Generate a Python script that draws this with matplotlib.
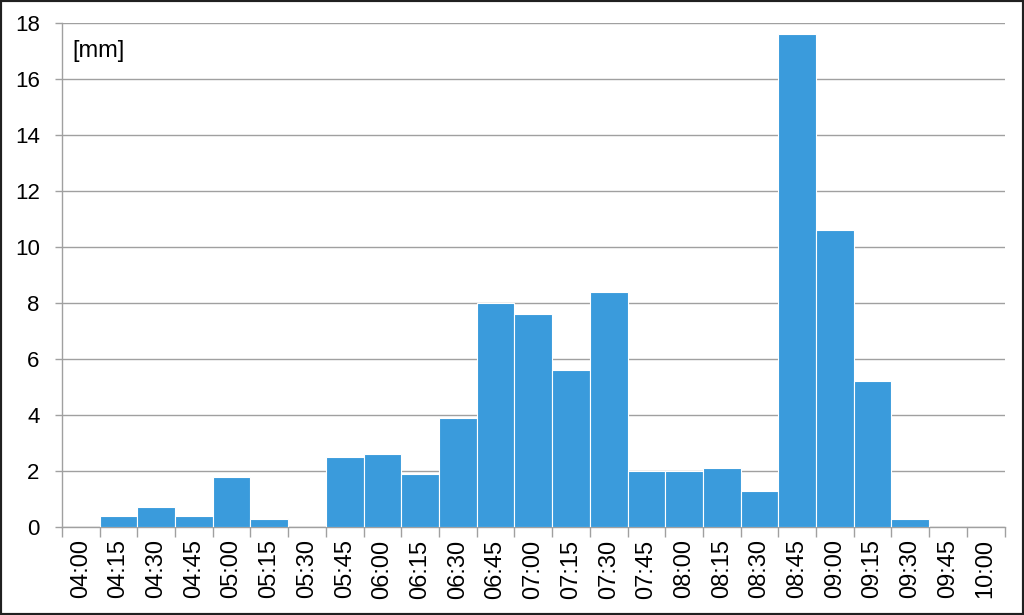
import numpy as np
import matplotlib.pyplot as plt

plt.rcParams['font.family'] = ['Liberation Sans', 'DejaVu Sans']

times = ['04:00', '04:15', '04:30', '04:45', '05:00', '05:15', '05:30', '05:45',
         '06:00', '06:15', '06:30', '06:45', '07:00', '07:15', '07:30', '07:45',
         '08:00', '08:15', '08:30', '08:45', '09:00', '09:15', '09:30', '09:45', '10:00']
rain = [0, 0.4, 0.7, 0.4, 1.8, 0.3, 0, 2.5,
        2.6, 1.9, 3.9, 8.0, 7.6, 5.6, 8.4, 2.0,
        2.0, 2.1, 1.3, 17.6, 10.6, 5.2, 0.3, 0, 0]

fig = plt.figure(figsize=(10.24, 6.15), dpi=100)
ax = fig.add_axes([0.0605, 0.1431, 0.9205, 0.8203])

x = np.arange(len(times))
ax.bar(x, rain, width=1.0, color='#3A9BDC', edgecolor='white', linewidth=0.8, zorder=3)

ax.set_xlim(-0.5, len(times) - 0.5)
ax.set_ylim(0, 18)
ax.set_yticks(np.arange(0, 19, 2))
ax.yaxis.grid(True, color='#A0A0A0', linewidth=1.0, zorder=0)

ax.set_xticks(np.arange(-0.5, len(times), 1.0))
ax.set_xticklabels([])
ax.set_xticks(x, minor=True)
ax.set_xticklabels(times, minor=True, rotation=90, fontsize=17)
ax.tick_params(axis='x', which='minor', length=0, pad=9)
ax.tick_params(axis='x', which='major', length=7, color='#A0A0A0', width=1)
ax.tick_params(axis='y', length=5, color='#A0A0A0', width=1, labelsize=16, pad=11)

for s in ['top', 'right']:
    ax.spines[s].set_visible(False)
for s in ['left', 'bottom']:
    ax.spines[s].set_color('#A0A0A0')
    ax.spines[s].set_linewidth(1.0)

ax.text(0.011, 0.965, '[mm]', transform=ax.transAxes, fontsize=17, va='top', ha='left')

fig.patches.append(plt.Rectangle((0, 0), 1, 1, transform=fig.transFigure,
                                 fill=False, edgecolor='#202020', linewidth=3))

fig.savefig('out.png', dpi=100)
